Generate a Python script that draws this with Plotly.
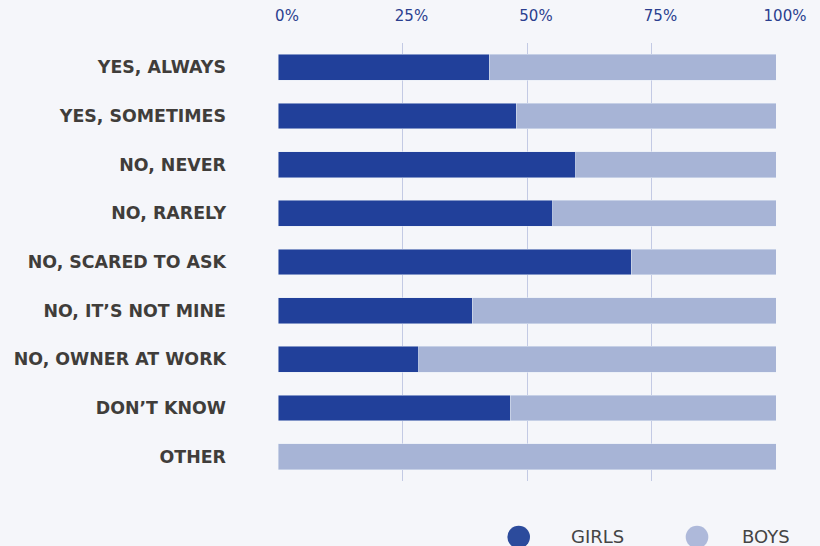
import plotly.graph_objects as go

categories = ["YES, ALWAYS", "YES, SOMETIMES", "NO, NEVER", "NO, RARELY",
              "NO, SCARED TO ASK", "NO, IT’S NOT MINE", "NO, OWNER AT WORK",
              "DON’T KNOW", "OTHER"]
girls = [42.4, 47.8, 59.8, 55.2, 70.9, 39.0, 28.3, 46.6, 0.0]
boys = [57.6, 52.2, 40.2, 44.8, 29.1, 61.0, 71.7, 53.4, 100.0]
tick_vals = [0, 25, 50, 75, 100]
tick_text = ["0%", "25%", "50%", "75%", "100%"]
legend_names = ["GIRLS", "BOYS"]

GIRL_C = "#21409A"
BOY_C = "#A7B4D6"
BG = "#F5F6FA"

fig = go.Figure()
fig.add_trace(go.Bar(y=categories, x=girls, orientation="h", marker_color=GIRL_C,
                     width=0.533, showlegend=False, name="GIRLS"))
fig.add_trace(go.Bar(y=categories, x=boys, orientation="h", marker_color=BOY_C,
                     width=0.533, showlegend=False, name="BOYS"))

# custom legend (circles + labels)
legend_colors = ["#2C4B9C", "#AEB9DA"]
legend_circle_x = [0.4833, 0.8414]
legend_text_x = [0.642, 0.98]
for name, col, cx, tx in zip(legend_names, legend_colors, legend_circle_x, legend_text_x):
    fig.add_shape(type="circle", xref="paper", yref="paper",
                  xsizemode="pixel", ysizemode="pixel",
                  xanchor=cx, yanchor=-0.128, x0=-11.3, x1=11.3, y0=-11.3, y1=11.3,
                  fillcolor=col, line_width=0)
    fig.add_annotation(text=name, xref="paper", yref="paper", x=tx, y=-0.127,
                       showarrow=False, xanchor="center", yanchor="middle",
                       font=dict(family="DejaVu Sans", size=18, color="#454545"))

fig.update_layout(
    barmode="stack",
    width=820, height=546,
    margin=dict(l=278, r=44, t=43, b=65, autoexpand=False),
    paper_bgcolor=BG, plot_bgcolor=BG,
    showlegend=False,
)
fig.update_xaxes(side="top", range=[0, 100], tickvals=tick_vals, ticktext=tick_text,
                 showgrid=True, gridcolor="#C3CAE4", gridwidth=1, zeroline=False,
                 showline=False, ticks="", ticklabelstandoff=18, ticklabelshift=9,
                 automargin=False,
                 tickfont=dict(family="DejaVu Sans", size=15, color="#2B3F8F"))
fig.update_yaxes(autorange="reversed", showgrid=False, zeroline=False, showline=False,
                 ticks="", ticklabelstandoff=51, automargin=False,
                 tickfont=dict(family="DejaVu Sans", size=17.4, color="#403D3A", weight="bold"))

fig.write_html("out.html", config={"displayModeBar": False},
               post_script="document.body.style.margin='0';document.body.style.overflow='hidden';")
